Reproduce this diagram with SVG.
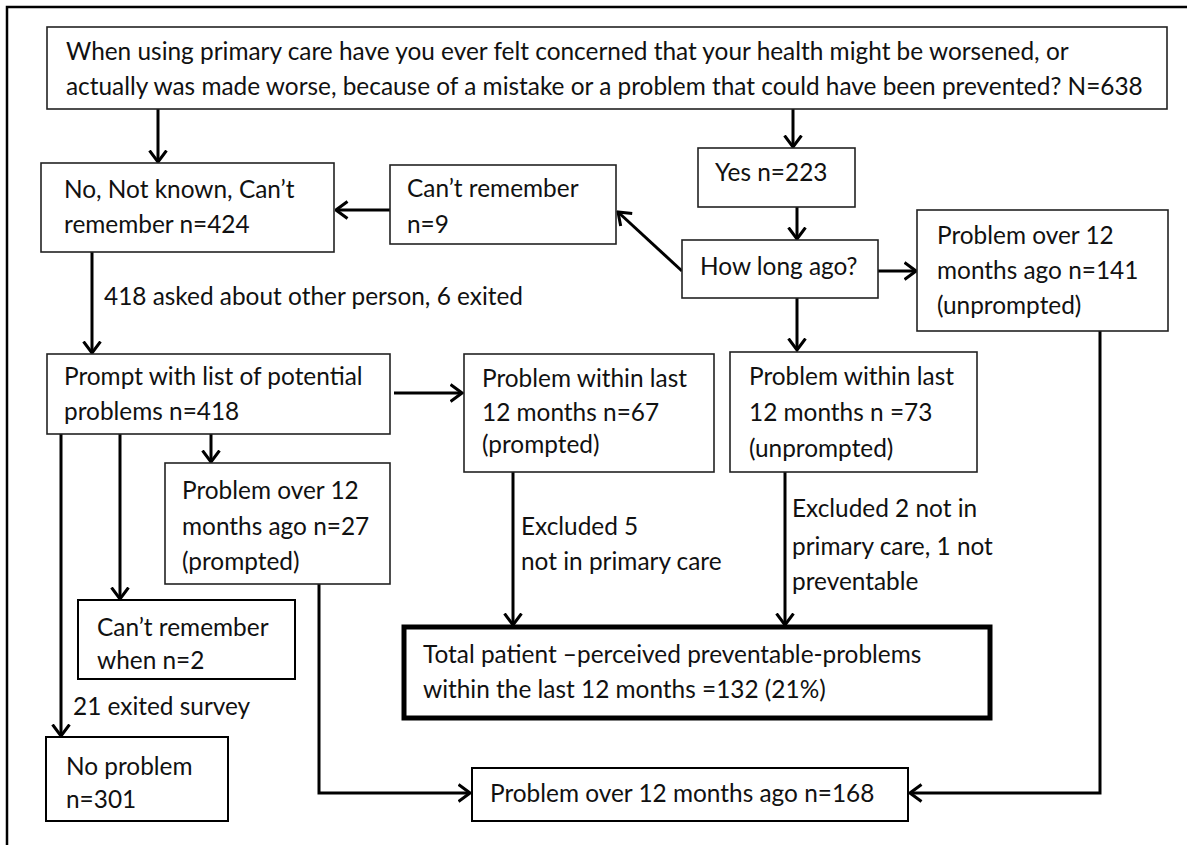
<svg xmlns="http://www.w3.org/2000/svg" width="1187" height="845" viewBox="0 0 1187 845">
<style>
text{font-family:Lato,"Open Sans","Liberation Sans",sans-serif;font-size:24.4px;fill:#111}
.box{fill:#fff;stroke:#222;stroke-width:1.6}
.thick{fill:#fff;stroke:#000;stroke-width:5}
.c{fill:none;stroke:#000;stroke-width:3}
</style>
<defs>
<marker id="ah" viewBox="0 0 14 20" refX="12.5" refY="10" markerWidth="14" markerHeight="20" markerUnits="userSpaceOnUse" orient="auto">
<path d="M1,1.5 L12.5,10 L1,18.5" fill="none" stroke="#000" stroke-width="3"/>
</marker>
</defs>
<rect width="1187" height="845" fill="#fff"/>
<path d="M7,845 V7 H1187" fill="none" stroke="#000" stroke-width="2.5"/>
<g id="connectors">
<path class="c" d="M158,109 V162" marker-end="url(#ah)"/>
<path class="c" d="M793,109 V147" marker-end="url(#ah)"/>
<path class="c" d="M797,207 V239" marker-end="url(#ah)"/>
<path class="c" d="M682,271 L618,212" marker-end="url(#ah)"/>
<path class="c" d="M878,271 H916" marker-end="url(#ah)"/>
<path class="c" d="M390,210 H336" marker-end="url(#ah)"/>
<path class="c" d="M797,298 V350" marker-end="url(#ah)"/>
<path class="c" d="M92,252 V353" marker-end="url(#ah)"/>
<path class="c" d="M394,393 H462" marker-end="url(#ah)"/>
<path class="c" d="M211,434 V462" marker-end="url(#ah)"/>
<path class="c" d="M120,434 V599" marker-end="url(#ah)"/>
<path class="c" d="M61,434 V736" marker-end="url(#ah)"/>
<path class="c" d="M513,472 V625" marker-end="url(#ah)"/>
<path class="c" d="M785,472 V625" marker-end="url(#ah)"/>
<path class="c" d="M319,584 V793 H470" marker-end="url(#ah)"/>
<path class="c" d="M1100,331 V793 H910" marker-end="url(#ah)"/>
<text x="104" y="305">418 asked about other person, 6 exited</text>
<text x="73" y="715">21 exited survey</text>
<text x="521" y="535">Excluded 5</text>
<text x="521" y="570">not in primary care</text>
<text x="792" y="517">Excluded 2 not in</text>
<text x="792" y="555">primary care, 1 not</text>
<text x="792" y="590">preventable</text>
</g>
<g id="n-question">
<rect class="box" x="47" y="27" width="1120" height="82"/>
<text x="66" y="60">When using primary care have you ever felt concerned that your health might be worsened, or</text>
<text x="66" y="95">actually was made worse, because of a mistake or a problem that could have been prevented? N=638</text>
</g>
<g id="n-no">
<rect class="box" x="41" y="163" width="293" height="89"/>
<text x="64" y="198">No, Not known, Can’t</text>
<text x="64" y="233">remember n=424</text>
</g>
<g id="n-cantremember">
<rect class="box" x="390" y="165" width="226" height="79"/>
<text x="407" y="197">Can’t remember</text>
<text x="407" y="233">n=9</text>
</g>
<g id="n-yes">
<rect class="box" x="698" y="148" width="157" height="59"/>
<text x="715" y="181">Yes n=223</text>
</g>
<g id="n-howlong">
<rect class="box" x="682" y="240" width="196" height="58"/>
<text x="700" y="275">How long ago?</text>
</g>
<g id="n-over141">
<rect class="box" x="917" y="210" width="251" height="121"/>
<text x="937" y="244">Problem over 12</text>
<text x="937" y="279">months ago n=141</text>
<text x="937" y="314">(unprompted)</text>
</g>
<g id="n-prompt">
<rect class="box" x="47" y="354" width="343" height="80"/>
<text x="64" y="385">Prompt with list of potential</text>
<text x="64" y="420">problems n=418</text>
</g>
<g id="n-within67">
<rect class="box" x="464" y="354" width="250" height="118"/>
<text x="482" y="387">Problem within last</text>
<text x="482" y="421">12 months n=67</text>
<text x="482" y="453">(prompted)</text>
</g>
<g id="n-within73">
<rect class="box" x="730" y="352" width="247" height="120"/>
<text x="749" y="385">Problem within last</text>
<text x="749" y="421">12 months n =73</text>
<text x="749" y="457">(unprompted)</text>
</g>
<g id="n-over27">
<rect class="box" x="165" y="463" width="225" height="121"/>
<text x="182" y="499">Problem over 12</text>
<text x="182" y="535">months ago n=27</text>
<text x="182" y="570">(prompted)</text>
</g>
<g id="n-cantwhen">
<rect class="box" x="78" y="600" width="217" height="79" style="stroke:#000;stroke-width:2"/>
<text x="97" y="636">Can’t remember</text>
<text x="97" y="669">when n=2</text>
</g>
<g id="n-total">
<rect class="thick" x="404" y="627" width="586" height="91"/>
<text x="423" y="663">Total patient –perceived preventable-problems</text>
<text x="423" y="698">within the last 12 months =132 (21%)</text>
</g>
<g id="n-noproblem">
<rect class="box" x="46" y="737" width="182" height="84" style="stroke:#000;stroke-width:2"/>
<text x="66" y="775">No problem</text>
<text x="66" y="808">n=301</text>
</g>
<g id="n-over168">
<rect class="box" x="472" y="768" width="436" height="53" style="stroke:#000;stroke-width:2"/>
<text x="490" y="802">Problem over 12 months ago n=168</text>
</g>
</svg>
